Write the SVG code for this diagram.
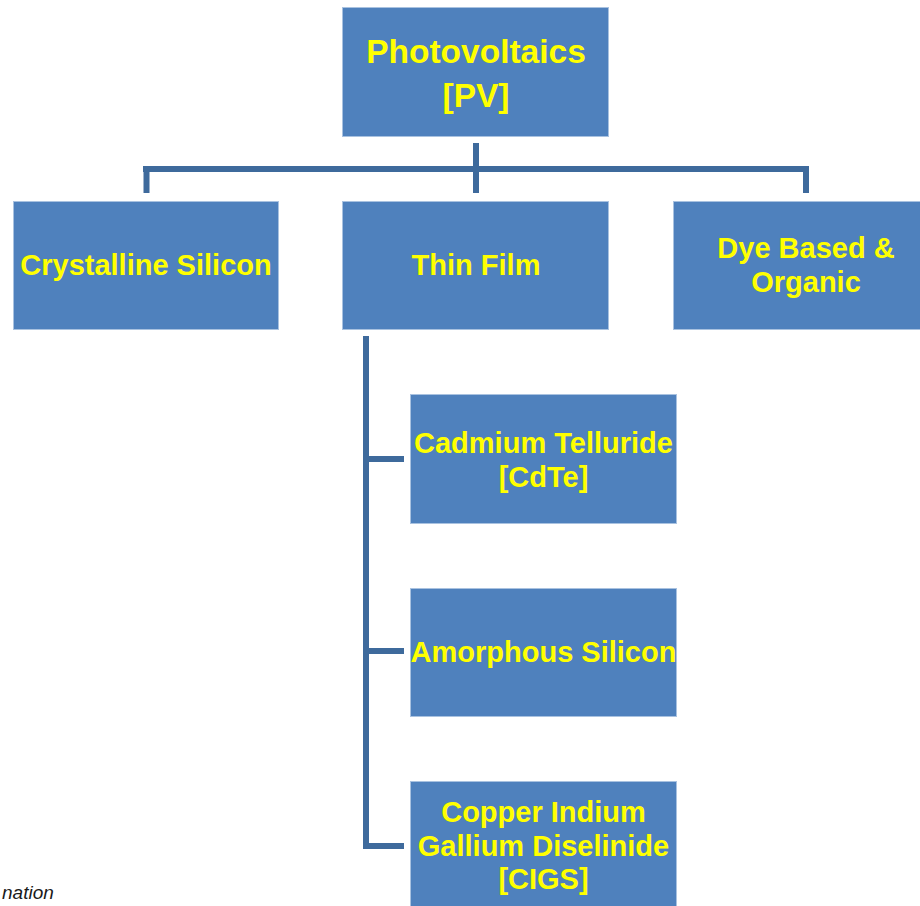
<svg xmlns="http://www.w3.org/2000/svg" width="920" height="906" viewBox="0 0 920 906">
<style>
.box{fill:#4F81BD;stroke:#A9C2E0;stroke-width:1}
.t{font-family:"Liberation Sans",Arial,sans-serif;font-weight:bold;fill:#FFFF00;text-anchor:middle;font-size:29px}
.big{font-size:33.5px}
.c{stroke:#3E6A9C;stroke-width:6;fill:none}
</style>
<rect width="920" height="906" fill="#FFFFFF"/>
<g id="connectors">
<path class="c" d="M476,143 V193"/>
<path class="c" d="M143,169 H809"/>
<path class="c" d="M146.5,169 V193 M806,169 V193"/>
<path class="c" d="M366,336 V849 M363,459 H404 M363,651 H404 M363,846 H404"/>
</g>
<g id="pv">
<rect class="box" x="342.5" y="7.5" width="266" height="129"/>
<text class="t big" x="476" y="63">Photovoltaics</text>
<text class="t big" x="476" y="107">[PV]</text>
</g>
<g id="crystalline">
<rect class="box" x="13.5" y="201.5" width="265" height="128"/>
<text class="t" x="146" y="275">Crystalline Silicon</text>
</g>
<g id="thinfilm">
<rect class="box" x="342.5" y="201.5" width="266" height="128"/>
<text class="t" x="476" y="275">Thin Film</text>
</g>
<g id="dye">
<rect class="box" x="673.5" y="201.5" width="250" height="128"/>
<text class="t" x="806" y="258">Dye Based &amp;</text>
<text class="t" x="806" y="292">Organic</text>
</g>
<g id="cdte">
<rect class="box" x="410.5" y="394.5" width="266" height="129"/>
<text class="t" x="543.5" y="453">Cadmium Telluride</text>
<text class="t" x="543.5" y="487">[CdTe]</text>
</g>
<g id="amorphous">
<rect class="box" x="410.5" y="588.5" width="266" height="128"/>
<text class="t" x="543.5" y="662">Amorphous Silicon</text>
</g>
<g id="cigs">
<rect class="box" x="410.5" y="781.5" width="266" height="140"/>
<text class="t" x="543.5" y="822">Copper Indium</text>
<text class="t" x="543.5" y="856">Gallium Diselinide</text>
<text class="t" x="543.5" y="889">[CIGS]</text>
</g>
<text x="2" y="899" font-family="Liberation Sans,Arial,sans-serif" font-style="italic" font-size="19" fill="#1a1a1a">nation</text>
</svg>
